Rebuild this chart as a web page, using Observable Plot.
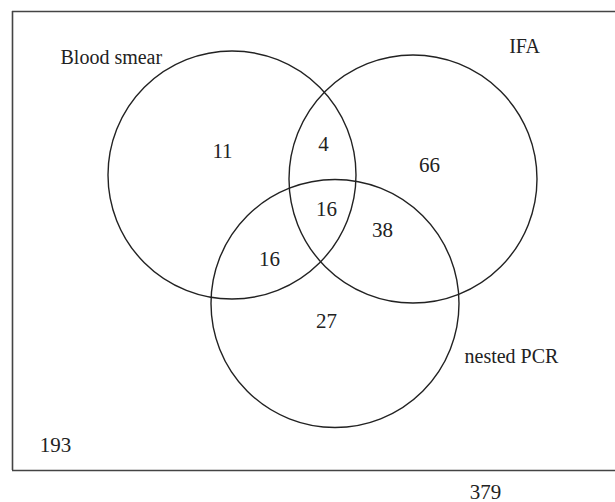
<!DOCTYPE html>
<html>
<head>
<meta charset="utf-8">
<script src="https://cdn.jsdelivr.net/npm/d3@7"></script>
<script src="https://cdn.jsdelivr.net/npm/@observablehq/plot@0.6"></script>
<style>
  html, body { margin: 0; padding: 0; background: #fff; }
  #chart svg { display: block; }
  #chart svg text { font-family: "Liberation Serif", "DejaVu Serif", serif !important; }
</style>
</head>
<body>
<div id="chart"></div>
<script>
// ---- data ----
const sets = ["Blood smear", "IFA", "nested PCR"];
const regions = ["Blood smear only", "Blood smear & IFA", "IFA only", "All three",
                 "Blood smear & nested PCR", "IFA & nested PCR", "nested PCR only", "None"];
const counts = [11, 4, 66, 16, 16, 38, 27, 193];
const total = 379;

// ---- layout (pixel space of the drawing) ----
const W = 615, H = 502;
const R = 124;
const circleCenters = [[231.5, 174.5], [412.5, 178.5], [334.5, 303]];
const setLabelPos = [[60, 63, "start"], [524, 52, "middle"], [464, 362, "start"]];
const regionLabelPos = [[222, 157], [323, 150], [429, 171], [326, 215], [269, 265], [382, 236], [326, 327], [55, 451]];
const totalPos = [485, 498];

const circles = sets.map((s, i) => ({set: s, x: circleCenters[i][0], y: circleCenters[i][1]}));
const setLabels = sets.map((s, i) => ({text: s, x: setLabelPos[i][0], y: setLabelPos[i][1], anchor: setLabelPos[i][2]}));
const regionLabels = regions.map((r, i) => ({region: r, n: counts[i], x: regionLabelPos[i][0], y: regionLabelPos[i][1]}));

const font = "Liberation Serif";
const ink = "#222";

const chart = Plot.plot({
  width: W,
  height: H,
  margin: 0,
  x: {domain: [0, W], range: [0, W], axis: null},
  y: {domain: [0, H], range: [0, H], axis: null},
  style: {fontFamily: font, background: "#fff"},
  marks: [
    // enclosing box (right side runs off the picture)
    Plot.ruleY([11, 470], {x1: 12, x2: W, stroke: "#444", strokeWidth: 1.6}),
    Plot.ruleX([12], {y1: 11, y2: 470, stroke: "#444", strokeWidth: 1.6}),
    // set circles
    Plot.dot(circles, {x: "x", y: "y", r: R, stroke: ink, strokeWidth: 1.4, fill: "none"}),
    // set labels
    Plot.text(setLabels.filter(d => d.anchor === "start"), {x: "x", y: "y", text: "text", textAnchor: "start", lineAnchor: "bottom", fontSize: 20, fontFamily: font, fill: ink}),
    Plot.text(setLabels.filter(d => d.anchor === "middle"), {x: "x", y: "y", text: "text", textAnchor: "middle", lineAnchor: "bottom", fontSize: 20, fontFamily: font, fill: ink}),
    // region counts
    Plot.text(regionLabels, {x: "x", y: "y", text: d => String(d.n), textAnchor: "middle", lineAnchor: "bottom", fontSize: 21, fontFamily: font, fill: ink}),
    // total
    Plot.text([total], {x: totalPos[0], y: totalPos[1], text: d => String(d), textAnchor: "middle", lineAnchor: "bottom", fontSize: 21, fontFamily: font, fill: ink})
  ]
});
document.getElementById("chart").appendChild(chart);
</script>
</body>
</html>
